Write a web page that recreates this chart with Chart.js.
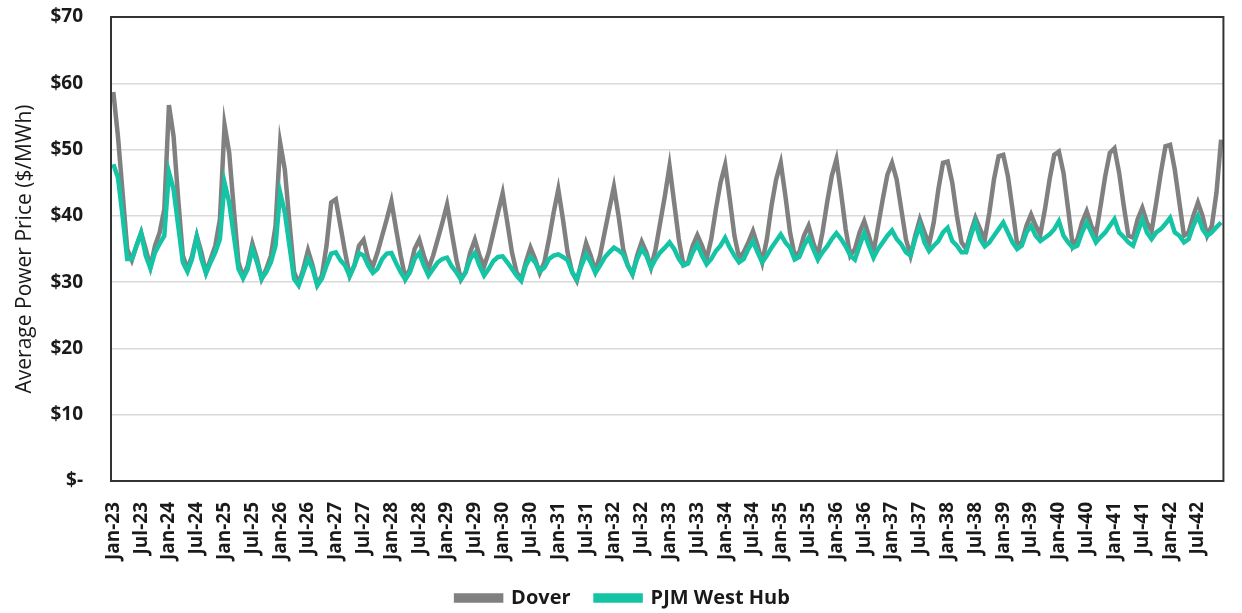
<!DOCTYPE html>
<html>
<head>
<meta charset="utf-8">
<title>Average Power Price</title>
<script src="https://cdn.jsdelivr.net/npm/chart.js@4.4.1/dist/chart.umd.min.js"></script>
<style>
  html, body { margin: 0; padding: 0; background: #ffffff; }
  #wrap { width: 1242px; height: 613px; position: relative; }
</style>
</head>
<body>
<div id="wrap"><canvas id="chart" width="1242" height="613"></canvas></div>
<script>
// Forecast horizon: Jan 2023 through Dec 2042, one point per month
const years = ['23','24','25','26','27','28','29','30','31','32','33','34','35','36','37','38','39','40','41','42'];
const monthNames = ['Jan','Feb','Mar','Apr','May','Jun','Jul','Aug','Sep','Oct','Nov','Dec'];
const shownTickMonths = ['Jan','Jul'];

// Dover monthly average price ($/MWh), one row per year (Jan..Dec)
const doverPrices = [
  58.7, 52.0, 43.5, 35.0, 33.3, 35.5, 37.5, 35.0, 32.3, 35.5, 37.5, 41.0,
  56.7, 52.0, 42.5, 34.0, 32.0, 34.0, 37.0, 34.5, 31.5, 33.5, 35.5, 39.5,
  53.7, 49.5, 41.0, 33.0, 30.8, 32.5, 35.8, 33.5, 30.5, 32.0, 34.0, 38.5,
  51.0, 47.0, 39.0, 31.5, 29.8, 32.0, 34.8, 32.5, 29.6, 31.0, 35.5, 42.0,
  42.5, 38.5, 34.5, 31.0, 32.5, 35.5, 36.4, 33.5, 32.4, 34.5, 37.0, 39.5,
  42.2, 38.0, 34.0, 30.6, 32.0, 35.0, 36.4, 34.0, 32.0, 34.0, 36.5, 39.0,
  41.7, 37.5, 33.5, 30.4, 31.5, 34.5, 36.4, 34.0, 32.4, 34.5, 37.5, 40.5,
  43.4, 39.0, 34.5, 31.5, 30.4, 33.0, 35.2, 33.5, 31.4, 33.0, 36.5, 40.5,
  44.0, 39.5, 34.5, 31.5, 30.2, 33.0, 35.9, 34.0, 31.7, 34.0, 37.5, 41.0,
  44.4, 40.0, 35.0, 32.5, 31.2, 34.0, 36.1, 34.5, 32.2, 35.0, 39.0, 43.0,
  47.5, 42.0, 36.5, 32.6, 33.0, 35.5, 37.1, 35.5, 33.5, 36.5, 41.0, 45.0,
  47.7, 42.5, 37.0, 33.7, 34.5, 36.0, 37.7, 35.5, 33.0, 36.5, 41.5, 45.5,
  48.0, 43.0, 37.5, 34.0, 34.5, 37.0, 38.5, 36.0, 34.0, 37.5, 42.0, 46.0,
  48.5, 43.5, 38.0, 34.0, 35.0, 37.5, 39.2, 37.0, 34.5, 38.5, 42.5, 46.2,
  48.0, 45.5, 41.0, 36.5, 34.0, 37.0, 39.5, 37.5, 35.7, 39.0, 44.0, 48.0,
  48.2, 45.0, 40.0, 36.0, 35.0, 37.5, 39.7, 38.0, 36.4, 40.5, 45.5, 49.0,
  49.2, 46.0, 41.0, 35.7, 36.0, 38.5, 40.2, 38.5, 37.2, 41.0, 45.5, 49.2,
  49.7, 46.5, 41.0, 35.4, 36.5, 39.0, 40.7, 38.5, 37.2, 41.5, 46.0, 49.5,
  50.2, 46.5, 41.5, 37.0, 36.7, 39.5, 41.2, 39.0, 37.7, 42.0, 46.5, 50.5,
  50.7, 47.0, 42.0, 37.0, 37.5, 40.0, 42.0, 40.0, 37.0, 38.5, 43.5, 51.5
];

// PJM West Hub monthly average price ($/MWh), one row per year (Jan..Dec)
const pjmPrices = [
  47.8, 45.8, 40.0, 33.5, 33.5, 35.5, 37.4, 34.0, 32.1, 34.5, 35.8, 37.0,
  46.6, 44.0, 38.5, 33.0, 31.6, 33.5, 36.8, 33.5, 31.3, 33.0, 34.5, 36.5,
  45.0, 42.0, 37.0, 32.0, 30.6, 32.0, 35.0, 33.0, 30.5, 31.5, 33.0, 35.5,
  43.5, 40.5, 35.5, 30.5, 29.5, 31.5, 33.5, 32.0, 29.5, 30.5, 32.5, 34.3,
  34.5, 33.3, 32.5, 30.9, 32.5, 34.4, 34.0, 32.5, 31.4, 32.0, 33.5, 34.3,
  34.4, 32.9, 31.5, 30.4, 31.5, 33.5, 34.4, 32.5, 31.0, 32.0, 33.0, 33.5,
  33.7, 32.4, 31.5, 30.4, 31.5, 33.5, 34.4, 32.5, 31.0, 32.0, 33.2, 33.8,
  33.9, 33.0, 32.0, 31.0, 30.2, 32.5, 33.8, 33.0, 31.6, 32.2, 33.5, 34.0,
  34.2, 33.8, 33.3, 31.5, 30.4, 32.5, 34.2, 33.0, 31.4, 32.5, 33.7, 34.5,
  35.2, 34.8, 34.2, 32.5, 31.2, 33.5, 35.0, 34.0, 32.2, 33.5, 34.5, 35.2,
  36.0, 35.0, 33.5, 32.5, 32.8, 34.5, 35.7, 34.0, 32.7, 33.5, 34.7, 35.5,
  36.7, 35.2, 34.0, 33.0, 33.5, 35.0, 36.2, 34.5, 33.0, 34.0, 35.2, 36.2,
  37.2, 36.0, 35.2, 33.4, 33.8, 35.5, 36.7, 35.0, 33.4, 34.5, 35.4, 36.5,
  37.4, 36.5, 35.4, 34.0, 33.4, 35.5, 37.4, 35.5, 33.7, 35.0, 36.0, 37.0,
  37.8, 36.5, 35.7, 34.5, 34.0, 36.5, 38.5, 36.0, 34.7, 35.5, 36.2, 37.5,
  38.2, 36.2, 35.5, 34.5, 34.5, 37.0, 39.0, 36.5, 35.4, 36.0, 37.0, 38.0,
  39.0, 37.5, 36.0, 35.0, 35.5, 37.5, 38.5, 37.0, 36.2, 36.7, 37.2, 38.0,
  39.2, 37.0, 36.0, 35.2, 35.5, 37.5, 39.0, 37.5, 36.0, 36.8, 37.5, 38.5,
  39.5, 37.5, 36.8, 36.0, 35.5, 37.5, 39.5, 37.5, 36.5, 37.5, 38.0, 38.8,
  39.7, 37.5, 37.0, 36.0, 36.5, 38.5, 40.0, 38.0, 37.0, 37.5, 38.3, 39.0
];

// Category labels such as "Jan-23"
const monthLabels = [];
years.forEach(y => monthNames.forEach(m => monthLabels.push(m + '-' + y)));

const FONT = '"Open Sans", "Liberation Sans", sans-serif';
const TEXT = '#1a1a1a';

// Dark frame around the plotting area
const frame = {
  id: 'frame',
  afterDatasetsDraw(chart) {
    const a = chart.chartArea, ctx = chart.ctx;
    ctx.save();
    ctx.strokeStyle = '#333333';
    ctx.lineWidth = 2;
    ctx.strokeRect(a.left, a.top, a.right - a.left, a.bottom - a.top);
    ctx.restore();
  }
};

// Nudge the bottom legend row to sit centred under the plot
const legendShift = {
  id: 'legendShift',
  afterLayout(chart) {
    if (chart.legend) {
      chart.legend.left += 8;
      chart.legend.right += 8;
    }
  }
};

new Chart(document.getElementById('chart'), {
  type: 'line',
  data: {
    labels: monthLabels,
    datasets: [
      {
        label: 'Dover',
        data: doverPrices,
        borderColor: '#808080',
        backgroundColor: '#808080',
        borderWidth: 4.5,
        pointRadius: 0,
        tension: 0,
        order: 2
      },
      {
        label: 'PJM West Hub',
        data: pjmPrices,
        borderColor: '#14c4a4',
        backgroundColor: '#14c4a4',
        borderWidth: 4.5,
        pointRadius: 0,
        tension: 0,
        order: 1
      }
    ]
  },
  options: {
    responsive: false,
    animation: false,
    layout: { padding: { top: 17, right: 12, left: 0, bottom: -5 } },
    plugins: {
      tooltip: { enabled: false },
      legend: {
        position: 'bottom',
        labels: {
          boxWidth: 45,
          boxHeight: 5,
          padding: 25,
          color: TEXT,
          font: { family: FONT, size: 20, weight: 'bold' },
          sort: (a, b) => a.datasetIndex - b.datasetIndex
        }
      }
    },
    scales: {
      x: {
        type: 'category',
        offset: true,
        grid: { display: false, drawTicks: false },
        border: { display: false },
        ticks: {
          autoSkip: false,
          maxRotation: 90,
          minRotation: 90,
          padding: 21,
          color: TEXT,
          font: { family: FONT, size: 19, weight: 'bold' },
          callback: function (value) {
            const lbl = this.getLabelForValue(value);
            return shownTickMonths.includes(lbl.slice(0, 3)) ? lbl : null;
          }
        },
        afterFit(scale) { scale.height = 82; }
      },
      y: {
        min: 0,
        max: 70,
        grid: {
          color: '#d9d9d9',
          lineWidth: 1.5,
          drawTicks: true,
          tickLength: 28,
          tickColor: 'rgba(0,0,0,0)'
        },
        border: { display: false },
        ticks: {
          stepSize: 10,
          padding: 0,
          color: TEXT,
          font: { family: FONT, size: 19, weight: 'bold' },
          callback: v => (v === 0 ? '$-' : '$' + v)
        },
        title: {
          display: true,
          text: 'Average Power Price ($/MWh)',
          color: TEXT,
          padding: { top: 12, bottom: 0 },
          font: { family: FONT, size: 21 }
        },
        afterFit(scale) { scale.width = 111; }
      }
    }
  },
  plugins: [frame, legendShift]
});
</script>
</body>
</html>
